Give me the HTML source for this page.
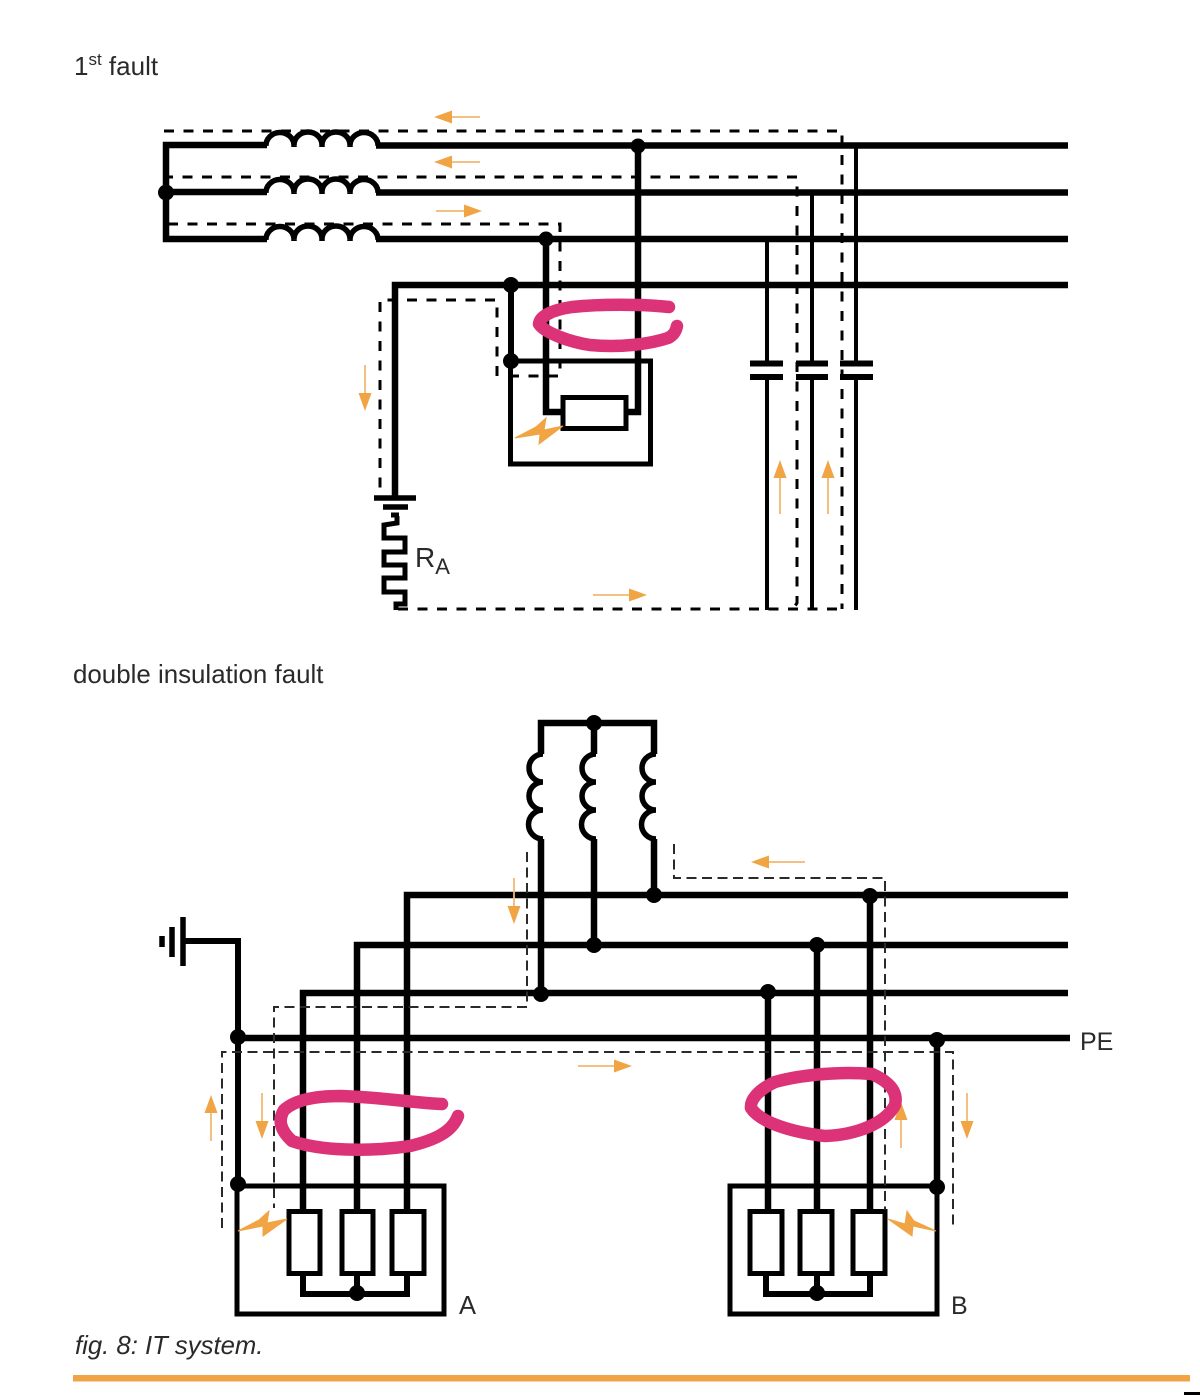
<!DOCTYPE html>
<html><head><meta charset="utf-8"><style>
html,body{margin:0;padding:0;background:#fff}
svg{display:block}
text{font-family:"Liberation Sans",sans-serif;fill:#2a2a2a}
</style></head><body>
<svg width="1200" height="1395" viewBox="0 0 1200 1395" xmlns="http://www.w3.org/2000/svg">
<defs>
<g id="arrowR"><path d="M-54 0H-16" stroke="#f3b872" stroke-width="1.8" fill="none"/><path d="M0 0L-18-6.500V6.500Z" fill="#f0a444"/></g>
<g id="arrowS"><path d="M-46 0H-16" stroke="#f3b872" stroke-width="1.8" fill="none"/><path d="M0 0L-18-6.500V6.500Z" fill="#f0a444"/></g>
<path id="coilH" d="M0 2A14 13 0 0 1 28 1A14 13 0 0 1 56 1A14 13 0 0 1 84 1A14 13 0 0 1 112 2M28 0V3M56 0V3M84 0V3" fill="none" stroke="#000" stroke-width="5.500"/>
<path id="coilV" d="M2 0A14 14 0 0 0 2 28A14 14 0 0 0 2 56A14 14 0 0 0 2 85" fill="none" stroke="#000" stroke-width="5.500"/>
</defs>

<!-- top diagram -->
<g fill="none" stroke="#000" stroke-linejoin="miter">
<path d="M267 145H166V239H267M166 192H267" stroke-width="6.500"/>
<path d="M376 145.500H1068M376 192.500H1068M376 239H1068M1068 285H395V497" stroke-width="6.500"/>
<path d="M638 145V412H626M546 239V412H563" stroke-width="6.500"/>
<path d="M511 285V361" stroke-width="6"/>
<rect x="510.500" y="361" width="140" height="103" stroke-width="5"/>
<rect x="563" y="397.500" width="63" height="31" stroke-width="5"/>
<path d="M374 498H416" stroke-width="5.500"/>
<path d="M383 507H408" stroke-width="5.500"/>
<path d="M391 515H399" stroke-width="5"/>
<path d="M397 516V523L384 525V538H405V552H384V565H405V578H384V592H405V604H396V610" stroke-width="5"/>
<path d="M767 239V363M767 377V610M812 192V363M812 377V610M856 145V363M856 377V610" stroke-width="4"/>
<path d="M750 363.500H783M750 377H783M796 363.500H828M796 377H828M840 363.500H873M840 377H873" stroke-width="6"/>
</g>
<use href="#coilH" x="266" y="144"/>
<use href="#coilH" x="266" y="191"/>
<use href="#coilH" x="266" y="238"/>
<g fill="#000">
<circle cx="166" cy="192.500" r="8"/>
<circle cx="638" cy="146" r="7.500"/>
<circle cx="546" cy="239" r="7.500"/>
<circle cx="511" cy="285" r="8"/>
<circle cx="511" cy="361" r="8"/>
</g>
<g fill="none" stroke="#000" stroke-width="3" stroke-dasharray="10 9.500">
<path d="M164 131H842V609"/>
<path d="M163 177H797V603L793 609"/>
<path d="M168 224H560V376H503"/>
<path d="M497 376V300H380V490"/>
<path d="M398 609H840"/>
</g>

<!-- top orange -->
<use href="#arrowS" transform="translate(434 117) rotate(180)"/>
<use href="#arrowS" transform="translate(434 162) rotate(180)"/>
<use href="#arrowS" transform="translate(482 211)"/>
<use href="#arrowS" transform="translate(365 411) rotate(90)"/>
<use href="#arrowR" transform="translate(647 595)"/>
<use href="#arrowR" transform="translate(780 460) rotate(-90)"/>
<use href="#arrowR" transform="translate(828 460) rotate(-90)"/>
<polygon points="515,438 536,427 546,418 544,430 563,426 539,444 540,434" fill="#f0a444" stroke="#f0a444" stroke-width="1"/>

<path d="M669 307C640 304 600 304 572 307C552 310 540 316 539 324C545 333 570 342 590 345C620 348 650 344 668 338C674 335 676 331 677 326" fill="none" stroke="#dc3278" stroke-width="12.500" stroke-linecap="round" stroke-linejoin="round"/>

<!-- bottom diagram -->
<g fill="none" stroke="#000">
<path d="M541 754V723H654V754M594 723V754" stroke-width="6.500"/>
<path d="M541 839V993M594 839V945M654 839V895" stroke-width="6.500"/>
<path d="M1068 895H407V1212M1068 945H357V1212M1068 993H303V1212M768 993V1212M817 945V1212M870 896V1212" stroke-width="6.500"/>
<path d="M238 1038H1070" stroke-width="6.500"/>
<path d="M183 941H238V1186" stroke-width="6"/>
<path d="M183 917V966" stroke-width="5.500"/>
<path d="M172 927V957" stroke-width="5.500"/>
<path d="M162 936V947" stroke-width="5.500"/>
<path d="M937 1040V1187" stroke-width="6.500"/>
<rect x="237" y="1186" width="207" height="128" stroke-width="5"/>
<rect x="730" y="1186" width="207" height="128" stroke-width="5"/>
<path d="M303 1273V1294H407V1273M357 1273V1294M766 1273V1294H870V1273M817 1273V1294" stroke-width="6"/>
<g stroke-width="5" fill="#fff">
<rect x="289" y="1211.500" width="31" height="62"/>
<rect x="342" y="1211.500" width="31" height="62"/>
<rect x="392" y="1211.500" width="32" height="62"/>
<rect x="750" y="1211.500" width="32" height="62"/>
<rect x="800" y="1211.500" width="32" height="62"/>
<rect x="853" y="1211.500" width="32" height="62"/>
</g>
</g>
<use href="#coilV" x="541" y="754"/>
<use href="#coilV" x="594" y="754"/>
<use href="#coilV" x="654" y="754"/>
<g fill="#000">
<circle cx="594" cy="723" r="8"/>
<circle cx="654" cy="895" r="8"/>
<circle cx="594" cy="945" r="8"/>
<circle cx="541" cy="994" r="8"/>
<circle cx="870" cy="896" r="8"/>
<circle cx="817" cy="945" r="8"/>
<circle cx="768" cy="992" r="8"/>
<circle cx="238" cy="1037" r="8"/>
<circle cx="238" cy="1184" r="8"/>
<circle cx="937" cy="1040" r="8"/>
<circle cx="937" cy="1187" r="8"/>
<circle cx="357" cy="1293" r="8"/>
<circle cx="817" cy="1293" r="8"/>
</g>
<g fill="none" stroke="#2a2a2a" stroke-width="2" stroke-dasharray="10 5.500">
<path d="M527 852V1007H274V1208"/>
<path d="M222 1228V1052H953V1226"/>
<path d="M674 844V878H885V1210"/>
</g>

<!-- bottom orange -->
<use href="#arrowR" transform="translate(751 862) rotate(180)"/>
<use href="#arrowS" transform="translate(514 924) rotate(90)"/>
<use href="#arrowR" transform="translate(632 1066)"/>
<use href="#arrowS" transform="translate(211 1095) rotate(-90)"/>
<use href="#arrowS" transform="translate(262 1139) rotate(90)"/>
<use href="#arrowS" transform="translate(901 1102) rotate(-90)"/>
<use href="#arrowS" transform="translate(967 1139) rotate(90)"/>
<polygon points="238,1231 259,1220 269,1211 267,1223 287,1219 263,1236 263,1226" fill="#f0a444" stroke="#f0a444" stroke-width="1"/>
<polygon points="936,1231 914,1221 907,1211 905,1224 888,1219 912,1236 913,1226" fill="#f0a444" stroke="#f0a444" stroke-width="1"/>

<path d="M442 1104C415 1103 380 1097 340 1096C315 1096 295 1100 284 1110C278 1120 280 1130 292 1141C320 1151 370 1152 410 1146C435 1140 452 1132 458 1116" fill="none" stroke="#dc3278" stroke-width="12.500" stroke-linecap="round" stroke-linejoin="round"/>
<path d="M872 1074C840 1071 800 1075 775 1082C758 1090 750 1100 751 1108C760 1122 790 1132 825 1136C855 1135 885 1124 895 1105C898 1092 890 1082 872 1074Z" fill="none" stroke="#dc3278" stroke-width="12.500" stroke-linecap="round" stroke-linejoin="round"/>

<!-- text -->
<text x="74" y="75" font-size="26">1<tspan font-size="17" dy="-10">st</tspan><tspan dy="10"> fault</tspan></text>
<text x="73" y="683" font-size="25.900">double insulation fault</text>
<text x="415" y="567" font-size="28">R<tspan font-size="22" dy="7">A</tspan></text>
<text x="1080" y="1050" font-size="25">PE</text>
<text x="459" y="1314" font-size="25.500">A</text>
<text x="951" y="1314" font-size="25">B</text>
<text x="75" y="1354" font-size="25.700" font-style="italic">fig. 8: IT system.</text>
<rect x="73" y="1375" width="1117" height="6.500" fill="#f0a444"/>
<rect x="1184" y="1392" width="16" height="3" fill="#000"/>
</svg>
</body></html>
